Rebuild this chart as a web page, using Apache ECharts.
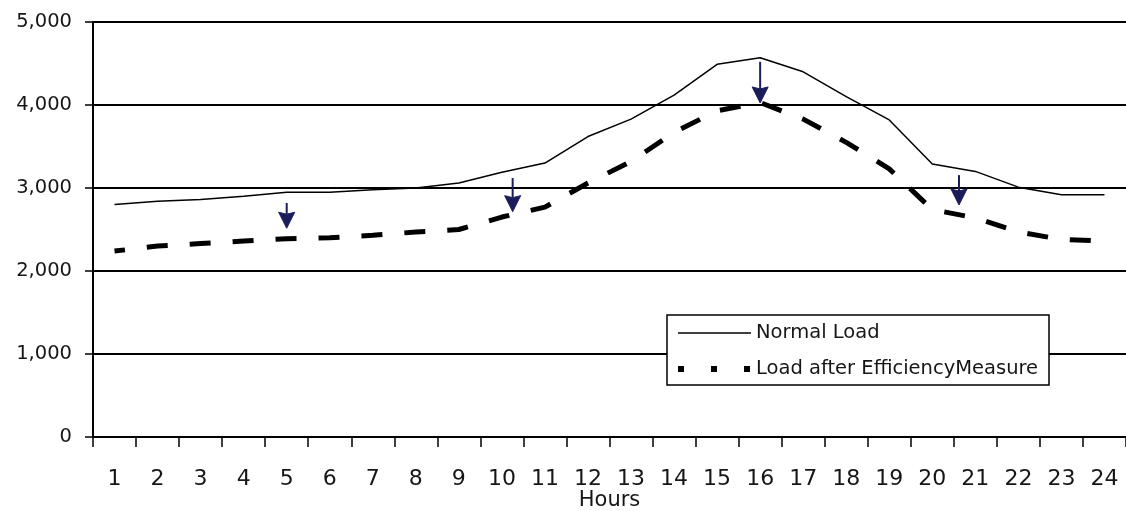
<!DOCTYPE html>
<html>
<head>
<meta charset="utf-8">
<script src="https://cdn.jsdelivr.net/npm/echarts@6/dist/echarts.min.js"></script>
<style>
  html, body { margin: 0; padding: 0; background: #ffffff; }
  #chart { width: 1126px; height: 511px; }
</style>
</head>
<body>
<div id="chart"></div>
<script>
// Hours of the day (x axis categories)
const hours = ['1','2','3','4','5','6','7','8','9','10','11','12','13','14','15','16','17','18','19','20','21','22','23','24'];

// Hourly load before any measures
const normalLoad = [2800, 2840, 2860, 2900, 2950, 2950, 2980, 3000, 3060, 3190, 3300, 3620,
                    3830, 4120, 4490, 4570, 4400, 4100, 3820, 3290, 3200, 3010, 2920, 2920];

// Hourly load once the efficiency measure is in place
const efficiencyLoad = [2240, 2300, 2330, 2360, 2390, 2400, 2430, 2470, 2500, 2650, 2770, 3060,
                        3320, 3670, 3930, 4030, 3830, 3550, 3230, 2740, 2640, 2470, 2380, 2360];

// Reduction arrows: hour position, start value, tip value
const arrowHour = [5, 10.25, 16, 20.62];
const arrowFrom = [2820, 3120, 4520, 3155];
const arrowTo   = [2515, 2715, 4025, 2795];

// Y axis ticks
const yTicks = [0, 1000, 2000, 3000, 4000, 5000];

const seriesNames = ['Normal Load', 'Load after EfficiencyMeasure'];

const FONT = 'DejaVu Sans';
const TEXT = '#161616';
const ARROW = '#1b1d5a';

const arrowData = arrowHour.map((h, i) => [h, arrowFrom[i], arrowTo[i]]);

const chart = echarts.init(document.getElementById('chart'), null, { renderer: 'canvas' });

chart.setOption({
  backgroundColor: '#ffffff',
  animation: false,
  grid: { left: 93, right: 0, top: 22, bottom: 74, containLabel: false, outerBoundsMode: 'none' },
  legend: {
    orient: 'vertical',
    left: 667,
    top: 315,
    padding: [8, 8, 6, 8],
    backgroundColor: '#ffffff',
    borderColor: '#000000',
    borderWidth: 1.5,
    borderRadius: 0,
    itemWidth: 73,
    itemHeight: 14,
    itemGap: 16,
    itemStyle: { opacity: 0 },
    textStyle: { fontFamily: FONT, fontSize: 19.5, color: TEXT, lineHeight: 20, width: 285 },
    data: [
      { name: seriesNames[0], itemStyle: { opacity: 0 }, lineStyle: { width: 1.5, color: '#000', type: 'solid' } },
      { name: seriesNames[1], itemStyle: { opacity: 0 }, lineStyle: { width: 6, color: '#000', type: [6, 27], dashOffset: 0 } }
    ]
  },
  xAxis: [
    {
      type: 'category',
      data: hours,
      boundaryGap: true,
      name: 'Hours',
      nameLocation: 'middle',
      nameGap: 53,
      nameMoveOverlap: false,
      nameTextStyle: { fontFamily: FONT, fontSize: 21, color: TEXT, lineHeight: 21 },
      axisLine: { show: true, lineStyle: { color: '#000', width: 2 } },
      axisTick: { show: true, length: 10, lineStyle: { color: '#000', width: 1.5 } },
      axisLabel: { fontFamily: FONT, fontSize: 22, color: TEXT, margin: 31 },
      splitLine: { show: false }
    },
    {
      type: 'value',
      min: 0.5,
      max: 24.5,
      show: false
    }
  ],
  yAxis: {
    type: 'value',
    min: yTicks[0],
    max: yTicks[yTicks.length - 1],
    interval: 1000,
    axisLine: { show: true, lineStyle: { color: '#000', width: 2 } },
    axisTick: { show: true, length: 8, lineStyle: { color: '#000', width: 1.5 } },
    axisLabel: {
      fontFamily: FONT, fontSize: 19.5, color: TEXT, margin: 21,
      formatter: v => v.toLocaleString('en-US')
    },
    splitLine: { show: true, lineStyle: { color: '#000', width: 1.8 } }
  },
  series: [
    {
      name: seriesNames[0],
      type: 'line',
      xAxisIndex: 0,
      data: normalLoad,
      symbol: 'none',
      itemStyle: { color: '#000' },
      lineStyle: { color: '#000', width: 1.5 },
      z: 3
    },
    {
      name: seriesNames[1],
      type: 'line',
      xAxisIndex: 0,
      data: efficiencyLoad,
      symbol: 'none',
      itemStyle: { color: '#000' },
      lineStyle: { color: '#000', width: 5, type: [21, 22], dashOffset: 10.5, cap: 'butt' },
      z: 3
    },
    {
      name: 'arrows',
      type: 'custom',
      xAxisIndex: 1,
      data: arrowData,
      encode: { x: 0, y: [1, 2] },
      z: 5,
      renderItem: function (params, api) {
        const top = api.coord([api.value(0), api.value(1)]);
        const tip = api.coord([api.value(0), api.value(2)]);
        const headH = 16, headW = 8;
        return {
          type: 'group',
          children: [
            {
              type: 'line',
              shape: { x1: top[0], y1: top[1], x2: tip[0], y2: tip[1] - headH + 2 },
              style: { stroke: ARROW, lineWidth: 2 }
            },
            {
              type: 'polygon',
              shape: {
                points: [
                  [tip[0] - headW, tip[1] - headH],
                  [tip[0], tip[1] - headH + 2],
                  [tip[0] + headW, tip[1] - headH],
                  [tip[0], tip[1]]
                ]
              },
              style: { fill: ARROW, stroke: ARROW, lineWidth: 1 }
            }
          ]
        };
      }
    }
  ]
});
</script>
</body>
</html>
